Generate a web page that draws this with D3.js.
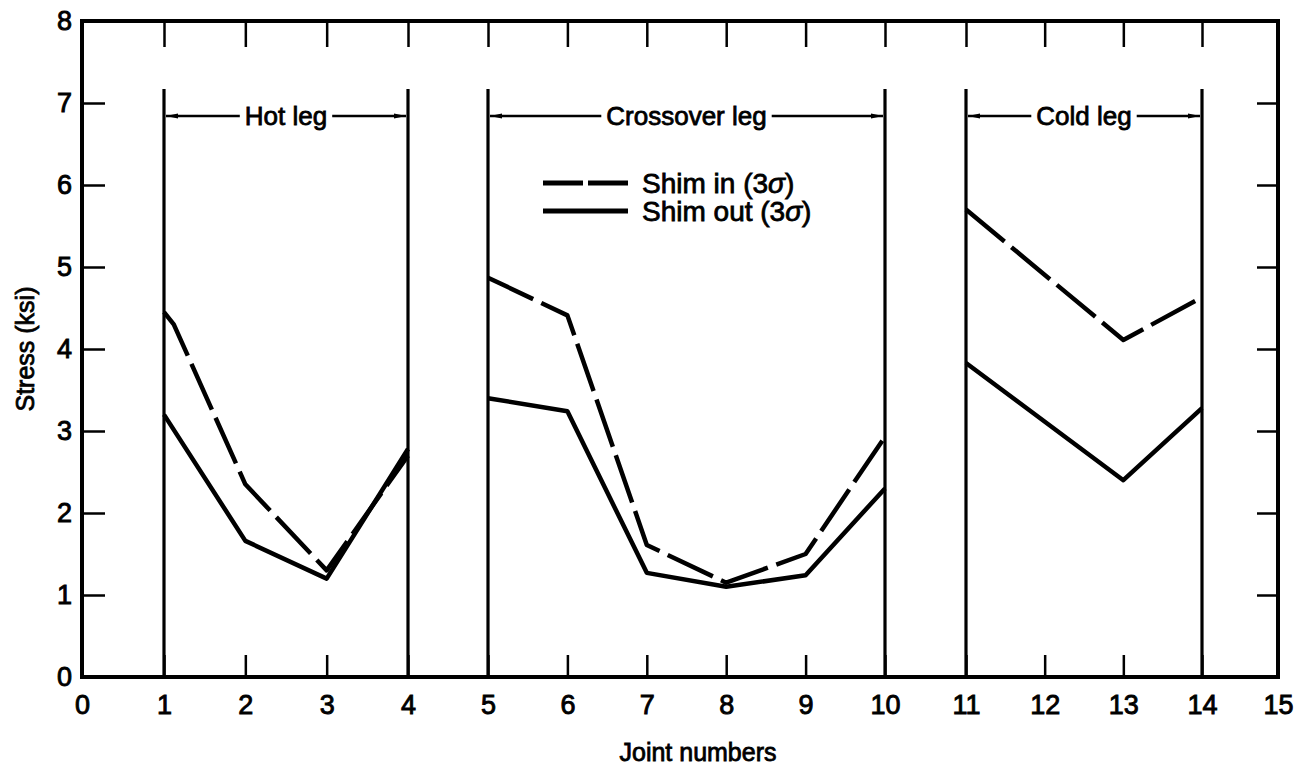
<!DOCTYPE html>
<html>
<head>
<meta charset="utf-8">
<script src="https://cdn.jsdelivr.net/npm/d3@7"></script>
<style>
  body { margin: 0; background: #fff; }
  text { font-family: "Liberation Sans", Arial, sans-serif; fill: #000; }
</style>
</head>
<body>
<div id="chart"></div>
<script>
// data
const shimInX  = [1, 1.12, 2, 3, 4, 5, 6, 7, 8, 9, 10, 11, 13, 14];
const shimInY  = [4.45, 4.3, 2.35, 1.3, 2.7, 4.87, 4.41, 1.61, 1.15, 1.5, 2.93, 5.7, 4.11, 4.63];
const shimOutX = [1, 2, 3, 4, 5, 6, 7, 8, 9, 10, 11, 13, 14];
const shimOutY = [3.2, 1.66, 1.2, 2.78, 3.4, 3.24, 1.27, 1.1, 1.24, 2.3, 3.83, 2.4, 3.28];
// legs split the joints into groups
const legNames = ["Hot leg", "Crossover leg", "Cold leg"];
const legStart = [1, 5, 11];
const legEnd   = [4, 10, 14];
const legTop = 7.17, legLabelAt = 6.84;
const xTicks = d3.range(0, 16);
const yTicks = d3.range(0, 9);

const width = 1300, height = 770;
const plotLeft = 82, plotRight = 1278, plotTop = 21, plotBottom = 677;

const svg = d3.select("#chart").append("svg")
    .attr("width", width)
    .attr("height", height);

// the scanned x axis is a little uneven, so pin it at the leg boundaries
const x = d3.scaleLinear()
    .domain([0, 1, 4, 5, 10, 11, 14, 15])
    .range([plotLeft, 164, 408, 488, 885, 966, 1202, plotRight]);
const y = d3.scaleLinear().domain([0, 8]).range([plotBottom, plotTop]);

// axes, ticks pointing inward
function styleAxis(g) {
    g.select(".domain").remove();
    g.selectAll(".tick line").attr("stroke", "#000").attr("stroke-width", 2.5);
    g.selectAll("text").style("font-size", "27px").attr("fill", "#000")
        .attr("stroke", "#000").attr("stroke-width", 0.9)
        .style("font-family", "'Liberation Sans', Arial, sans-serif");
}

svg.append("g")
    .attr("transform", `translate(0,${plotBottom})`)
    .call(d3.axisBottom(x).tickValues(xTicks).tickSize(-22).tickPadding(18))
    .call(styleAxis);

svg.append("g")
    .attr("transform", `translate(0,${plotTop})`)
    .call(d3.axisTop(x).tickValues(xTicks).tickSize(-26).tickFormat(""))
    .call(styleAxis);

svg.append("g")
    .attr("transform", `translate(${plotLeft},0)`)
    .call(d3.axisLeft(y).tickValues(yTicks).tickSize(-23).tickPadding(10))
    .call(styleAxis);

svg.append("g")
    .attr("transform", `translate(${plotRight},0)`)
    .call(d3.axisRight(y).tickValues(yTicks).tickSize(-21).tickFormat(""))
    .call(styleAxis);

// frame
svg.append("rect")
    .attr("x", plotLeft).attr("y", plotTop)
    .attr("width", plotRight - plotLeft).attr("height", plotBottom - plotTop)
    .attr("fill", "none").attr("stroke", "#000").attr("stroke-width", 4);

// leg boundary lines
const legEdges = legStart.concat(legEnd);
svg.selectAll(".leg-line")
    .data(legEdges)
    .enter()
    .append("line")
    .attr("class", "leg-line")
    .attr("x1", d => x(d)).attr("x2", d => x(d))
    .attr("y1", y(0)).attr("y2", y(legTop))
    .attr("stroke", "#000").attr("stroke-width", 3.2);

// arrowheads
const defs = svg.append("defs");
defs.append("marker")
    .attr("id", "arrow")
    .attr("viewBox", "0 0 12 8")
    .attr("refX", 12).attr("refY", 4)
    .attr("markerWidth", 12).attr("markerHeight", 8)
    .attr("markerUnits", "userSpaceOnUse")
    .attr("orient", "auto")
    .append("path")
    .attr("d", "M0,1.5 L12,4 L0,6.5 Z")
    .attr("fill", "#000");

legNames.forEach((name, i) => {
    const cx = (x(legStart[i]) + x(legEnd[i])) / 2;
    const cy = y(legLabelAt);
    const t = svg.append("text")
        .attr("x", cx).attr("y", cy)
        .attr("dy", "0.36em")
        .attr("text-anchor", "middle")
        .style("font-size", "26px")
        .attr("stroke", "#000").attr("stroke-width", 0.8)
        .text(name);
    const w = t.node().getComputedTextLength();
    svg.append("line")
        .attr("x1", cx - w / 2 - 5).attr("x2", x(legStart[i]) + 2)
        .attr("y1", cy).attr("y2", cy)
        .attr("stroke", "#000").attr("stroke-width", 2.5)
        .attr("marker-end", "url(#arrow)");
    svg.append("line")
        .attr("x1", cx + w / 2 + 5).attr("x2", x(legEnd[i]) - 2)
        .attr("y1", cy).attr("y2", cy)
        .attr("stroke", "#000").attr("stroke-width", 2.5)
        .attr("marker-end", "url(#arrow)");
});

// series, broken at the gaps between legs
function legOf(v) {
    return legStart.findIndex((s, i) => v >= s && v <= legEnd[i]);
}
const line = d3.line()
    .x(d => x(d[0]))
    .y(d => y(d[1]));

function drawSeries(xs, ys, dash) {
    legNames.forEach((_, li) => {
        const pts = xs.map((v, i) => [v, ys[i], legOf(v)]).filter(p => p[2] === li);
        svg.append("path")
            .datum(pts)
            .attr("d", line)
            .attr("fill", "none")
            .attr("stroke", "#000")
            .attr("stroke-width", 4.5)
            .attr("stroke-linejoin", "round")
            .attr("stroke-dasharray", dash);
    });
}
drawSeries(shimOutX, shimOutY, null);
drawSeries(shimInX, shimInY, "50,9");

// legend
const legend = [
    { label: "Shim in (3", dash: "40,5" },
    { label: "Shim out (3", dash: null }
];
legend.forEach((d, i) => {
    const ly = 183 + i * 28;
    svg.append("line")
        .attr("x1", 543).attr("x2", 628)
        .attr("y1", ly).attr("y2", ly)
        .attr("stroke", "#000").attr("stroke-width", 5)
        .attr("stroke-dasharray", d.dash);
    const t = svg.append("text")
        .attr("x", 642).attr("y", ly)
        .attr("dy", "0.36em")
        .style("font-size", "28px")
        .attr("stroke", "#000").attr("stroke-width", 0.8);
    t.append("tspan").text(d.label);
    t.append("tspan").style("font-style", "italic").text("σ");
    t.append("tspan").text(")");
});

// axis titles
svg.append("text")
    .attr("x", 698).attr("y", 752)
    .attr("dy", "0.36em")
    .attr("text-anchor", "middle")
    .style("font-size", "25px")
    .attr("stroke", "#000").attr("stroke-width", 0.8)
    .text("Joint numbers");

svg.append("text")
    .attr("transform", `translate(25,${(plotTop + plotBottom) / 2}) rotate(-90)`)
    .attr("dy", "0.36em")
    .attr("text-anchor", "middle")
    .style("font-size", "25px")
    .attr("stroke", "#000").attr("stroke-width", 0.8)
    .text("Stress (ksi)");
</script>
</body>
</html>
